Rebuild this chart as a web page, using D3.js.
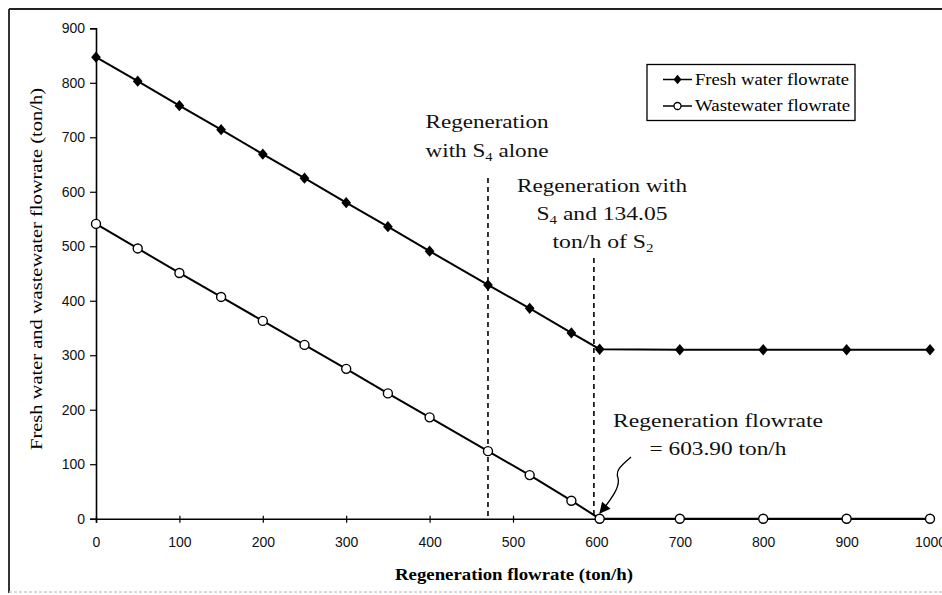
<!DOCTYPE html>
<html lang="en">
<head>
<meta charset="utf-8">
<script src="https://d3js.org/d3.v7.min.js"></script>
<style>
  body { margin: 0; background: #fff; }
  svg { display: block; }
</style>
</head>
<body>
<svg width="942" height="595"></svg>
<script>
// regeneration flowrate (ton/h)
var regenFlow = [0, 50, 100, 150, 200, 250, 300, 350, 400, 470, 520, 570, 603.9, 700, 800, 900, 1000];
// fresh water flowrate (ton/h)
var freshWater = [847, 803, 758, 714, 669, 625, 580, 536, 491, 429, 386, 341, 311, 310, 310, 310, 310];
// wastewater flowrate (ton/h)
var wasteWater = [541, 496, 451, 407, 363, 319, 275, 230, 186, 124, 80, 33, 0, 0, 0, 0, 0];

var xTicks = [0, 100, 200, 300, 400, 500, 600, 700, 800, 900, 1000];
var yTicks = [0, 100, 200, 300, 400, 500, 600, 700, 800, 900];

var seriesNames = ["Fresh water flowrate", "Wastewater flowrate"];
var regenS4 = 470, regenS4S2 = 597;   // dashed marker lines

var svg = d3.select("svg");
var serif = "'Liberation Serif', 'Times New Roman', serif";
var sans = "'Liberation Sans', Arial, sans-serif";

var x = d3.scaleLinear().domain([0, 1000]).range([96, 930]);
var y = d3.scaleLinear().domain([0, 900]).range([518.7, 28.3]);

// frame of the scanned figure
svg.append("line").attr("x1", 9).attr("x2", 942).attr("y1", 9).attr("y2", 9)
   .style("stroke", "#222").style("stroke-width", 2);
svg.append("line").attr("x1", 9).attr("x2", 9).attr("y1", 9).attr("y2", 593)
   .style("stroke", "#333").style("stroke-width", 2);
svg.append("line").attr("x1", 9).attr("x2", 942).attr("y1", 592).attr("y2", 592)
   .style("stroke", "#ccc").style("stroke-width", 1.5).style("stroke-dasharray", "3,2");

// axes
var xAxis = svg.append("g")
   .attr("transform", "translate(0," + y(0) + ")")
   .call(d3.axisBottom(x).tickValues(xTicks).tickSize(4).tickPadding(14).tickFormat(d3.format("d")));
xAxis.selectAll(".tick line").attr("y1", -3);

var yAxis = svg.append("g")
   .attr("transform", "translate(" + x(0) + ",0)")
   .call(d3.axisLeft(y).tickValues(yTicks).tickSize(6).tickPadding(5).tickFormat(d3.format("d")));

svg.selectAll(".domain").style("stroke", "#000").style("stroke-width", 1.6);
svg.selectAll(".tick line").style("stroke", "#000").style("stroke-width", 1.2);
svg.selectAll(".tick text").style("font-family", sans).style("font-size", "14px")
   .style("fill", "#111");

// dashed lines
[[regenS4, 178], [regenS4S2, 258]].forEach(function(d) {
  svg.append("line")
     .attr("x1", x(d[0])).attr("x2", x(d[0]))
     .attr("y1", d[1]).attr("y2", y(0))
     .style("stroke", "#000").style("stroke-width", 1.6)
     .style("stroke-dasharray", "5,4");
});

var pts = regenFlow.map(function(r, i) { return { r: r, f: freshWater[i], w: wasteWater[i] }; });

var lineF = d3.line().x(function(d) { return x(d.r); }).y(function(d) { return y(d.f); });
var lineW = d3.line().x(function(d) { return x(d.r); }).y(function(d) { return y(d.w); });

svg.append("path").datum(pts).attr("d", lineF)
   .style("fill", "none").style("stroke", "#000").style("stroke-width", 2);
svg.append("path").datum(pts).attr("d", lineW)
   .style("fill", "none").style("stroke", "#000").style("stroke-width", 2);

// wide diamond like the Excel marker
var wideDiamond = {
  draw: function(ctx, size) {
    var h = Math.sqrt(size) * 0.6, w = h * 0.85;
    ctx.moveTo(0, -h); ctx.lineTo(w, 0); ctx.lineTo(0, h); ctx.lineTo(-w, 0); ctx.closePath();
  }
};

svg.append("g").selectAll("path")
   .data(pts).enter().append("path")
   .attr("d", d3.symbol().type(wideDiamond).size(90))
   .attr("transform", function(d) { return "translate(" + x(d.r) + "," + y(d.f) + ")"; })
   .style("fill", "#000");

svg.append("g").selectAll("circle")
   .data(pts).enter().append("circle")
   .attr("cx", function(d) { return x(d.r); })
   .attr("cy", function(d) { return y(d.w); })
   .attr("r", 4.5)
   .style("fill", "#fff").style("stroke", "#000").style("stroke-width", 1.4);

// legend
var lg = svg.append("g");
lg.append("rect").attr("x", 647).attr("y", 64.5).attr("width", 208).attr("height", 56)
  .style("fill", "#fff").style("stroke", "#000").style("stroke-width", 1.3);
seriesNames.forEach(function(name, i) {
  var ly = 79.5 + i * 26.5;
  lg.append("line").attr("x1", 663).attr("x2", 692).attr("y1", ly).attr("y2", ly)
    .style("stroke", "#000").style("stroke-width", 1.5);
  if (i === 0) {
    lg.append("path").attr("d", d3.symbol().type(wideDiamond).size(60))
      .attr("transform", "translate(677.5," + ly + ")").style("fill", "#000");
  } else {
    lg.append("circle").attr("cx", 677.5).attr("cy", ly).attr("r", 3.5)
      .style("fill", "#fff").style("stroke", "#000").style("stroke-width", 1.3);
  }
  lg.append("text").attr("x", 695).attr("y", ly + 5)
    .attr("textLength", i === 0 ? 154 : 155).attr("lengthAdjust", "spacingAndGlyphs")
    .style("font-family", serif).style("font-size", "16px")
    .text(name);
});

// annotation texts
function label(cx, cy, len, parts) {
  var t = svg.append("text").attr("x", cx).attr("y", cy).attr("text-anchor", "middle")
     .attr("textLength", len).attr("lengthAdjust", "spacingAndGlyphs")
     .style("font-family", serif).style("font-size", "19px").style("fill", "#111");
  parts.forEach(function(p) {
    var ts = t.append("tspan").text(p[0]);
    if (p[1]) ts.attr("dy", 4).style("font-size", "12px");
    else if (t.selectAll("tspan").size() > 1) ts.attr("dy", -4);
  });
}
label(487, 128, 123, [["Regeneration"]]);
label(487, 157, 123, [["with S"], ["4", true], [" alone"]]);
label(602, 192, 170, [["Regeneration with"]]);
label(602, 220, 131, [["S"], ["4", true], [" and 134.05"]]);
label(603, 248, 101, [["ton/h of S"], ["2", true]]);
label(718, 427, 210, [["Regeneration flowrate"]]);
label(718, 455, 137, [["= 603.90 ton/h"]]);

// arrow to the regeneration point
svg.append("defs").append("marker")
   .attr("id", "head").attr("viewBox", "0 0 10 10").attr("refX", 9).attr("refY", 5)
   .attr("markerWidth", 13).attr("markerHeight", 11).attr("orient", "auto")
   .attr("markerUnits", "userSpaceOnUse")
   .append("path").attr("d", "M0,0L10,5L0,10Z").style("fill", "#000");
svg.append("path")
   .attr("d", "M631,457 C622,465 615,470 618,478 C620,486 614,496 600,513")
   .style("fill", "none").style("stroke", "#000").style("stroke-width", 1.3)
   .attr("marker-end", "url(#head)");

// axis titles
svg.append("text").attr("x", 514).attr("y", 580).attr("text-anchor", "middle")
   .attr("textLength", 238).attr("lengthAdjust", "spacingAndGlyphs")
   .style("font-family", serif).style("font-size", "17px").style("font-weight", "bold")
   .text("Regeneration flowrate (ton/h)");
svg.append("text").attr("text-anchor", "middle")
   .attr("transform", "translate(42,269)rotate(-90)")
   .attr("textLength", 362).attr("lengthAdjust", "spacingAndGlyphs")
   .style("font-family", serif).style("font-size", "17px")
   .text("Fresh water and wastewater flowrate (ton/h)");
</script>
</body>
</html>
